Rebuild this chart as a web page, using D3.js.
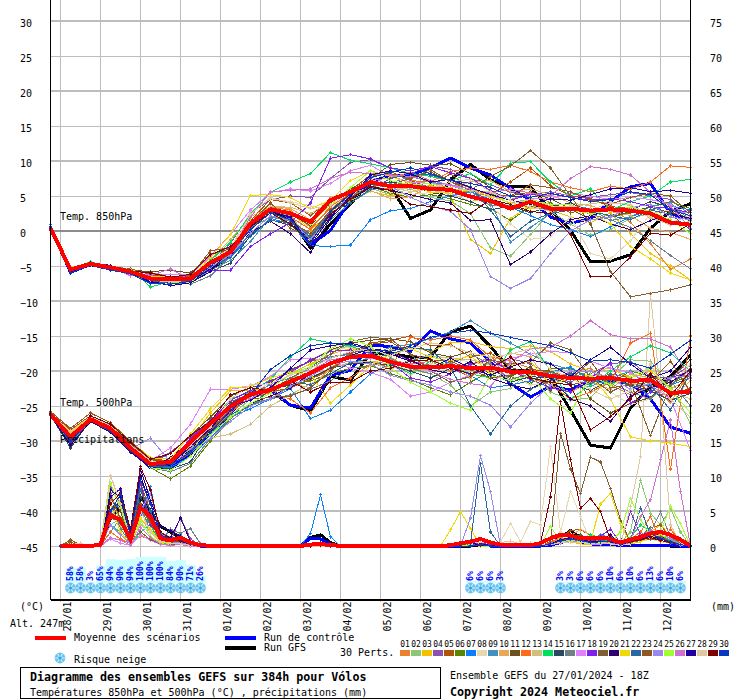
<!DOCTYPE html>
<html><head><meta charset="utf-8">
<script src="https://cdn.jsdelivr.net/npm/d3@7/dist/d3.min.js"></script>
<style>
html,body{margin:0;padding:0;background:#fff}
svg{display:block}
text{font-family:"DejaVu Sans Mono",monospace;font-size:10px;fill:#000}
.b{font-weight:bold;font-size:11.65px}
</style></head><body>
<svg id="c" width="740" height="700"></svg>
<script>
const dateLabels=["28/01","29/01","30/01","31/01","01/02","02/02","03/02","04/02","05/02","06/02","07/02","08/02","09/02","10/02","11/02","12/02"];
const memberColors=["#e8822f","#8cc873","#f2c200","#8c50b0","#b05208","#5a8500","#0a80ff","#e8d8b0","#4090c0","#e8a858","#6b5020","#ff6a1a","#d0c080","#00e060","#2a4860","#708088","#e080ff","#8020f0","#806030","#300070","#f0d800","#2868a0","#905820","#9888f0","#a0ff30","#d070d0","#2000a0","#e0c8a0","#800000","#0838c0"];
const snowSteps=[2,3,4,5,6,7,8,9,10,11,12,13,14,15,42,43,44,45,51,52,53,54,55,56,57,58,59,60,61,62,63];
const snowPct=[58,58,3,65,94,90,94,100,100,100,84,90,71,26,6,6,6,3,3,3,6,6,6,10,6,10,6,13,6,10,6];
const wetSteps=[1,2,3,5,6,7,8,9,10,11,12,13,14,15,16,26,27,28,29,30,40,41,42,43,44,45,46,47,48,49,50,51,52,53,54,55,56,57,58,59,60,61,62,63,64];
const mean850=[.4,-5.5,-4.7,-5.2,-5.8,-6.8,-6.9,-6.8,-4.5,-3,1.1,3.1,2.5,1.3,4.4,5.6,7,6.4,6.4,6,5.9,4.9,4.3,3.2,4.2,3.2,3.2,2.9,3.1,2.9,2.5,1.2,.9];
const ctrl850=[.6,-5.9,-4.8,-5.4,-6,-7.2,-7.3,-7,-5,-3.3,.9,3.2,1.9,-2,.1,4.4,7,8,8,9,10.4,9,8,6.1,4.4,2,1.1,1.8,4.2,6.3,6.8,2.5,1.6];
const gfs850=[.4,-5.8,-4.7,-5.3,-5.9,-7,-7.1,-7,-5.4,-3.6,.8,3,1.8,-2.4,1,3.9,7,6.3,1.8,3,7.3,9.5,7.3,6.3,6.3,3,.1,-4.4,-4.3,-3.4,.4,2.8,3.9];
const mean500=[-26.2,-29.4,-26.9,-28.2,-31,-33.3,-33,-30.1,-27.5,-25.1,-23.3,-22.7,-21.5,-20.3,-18.9,-18,-17.8,-18.7,-19.4,-19.5,-19.3,-19.6,-19.5,-20.1,-20.2,-20.7,-21,-21.1,-21,-21.4,-21.3,-23.2,-22.9];
const ctrl500=[-26.2,-29.8,-27,-28.3,-31.2,-33.8,-33.8,-32,-29,-26,-23,-22.6,-24.9,-25.3,-20.6,-19.9,-16.3,-16.5,-17.2,-14.3,-15.4,-16,-18.7,-21.8,-23.7,-22.2,-22.7,-21.3,-21.3,-21.8,-24,-28,-28.9];
const gfs500=[-26.1,-29.6,-27.1,-28.1,-31,-33.6,-33.4,-31.2,-28.4,-25.3,-23,-22.8,-24.9,-25.7,-20.8,-21.3,-17.5,-17.5,-18,-18,-14.4,-13.6,-16.5,-19.9,-19.9,-20.8,-25.6,-30.6,-31,-25.3,-22.2,-20.8,-17.7];
const meanRain=[0,.05,.05,.2,4.4,3.7,.9,5.5,4.2,1.1,.8,1.2,.5,.1,.05,.2,.3,.1,.05,.05,.1,.4,.6,1,.5,.2,.1,.1,.1,.4,1.1,1.6,1.5,1.1,1.1,1.2,1,.5,.9,1.3,1.8,2,1.6,.9,0];
const ctrlRain=[0,0,0,.1,5,6,1,6,4.5,1.4,.9,1,.2,0,0,1.1,1,.3,0,0,0,0,.1,.3,0,0,0,0,0,0,.1,.5,.8,.5,.3,.2,.2,.1,.1,.1,.1,.1,.1,0,0];
const gfsRain=[0,0,0,.1,4,5.5,1,7,5,2.8,2,1.2,.2,0,0,1.2,1.6,.5,0,0,0,0,0,.2,0,0,0,0,0,0,.3,1.2,2.2,1.2,.6,.4,.2,.1,.1,.1,.1,.1,0,0,0];
const t850=[
[.3,-5.5,-4.6,-5.2,-5.6,-6.6,-6.7,-6.6,-4.4,-2.2,1.6,3.4,3,.5,3.2,5.1,7.2,7.6,8.4,7.2,6,5.5,5,4.5,5.5,4,3,2.5,3.6,1.2,-1.8,-5.5,-4],
[.4,-5.7,-4.7,-5.3,-5.9,-7,-7.2,-6.9,-4.8,-3.1,.2,2.8,2.2,-1.4,2.2,4.6,6.1,5.2,6,4.8,4.3,2.5,-2.4,-3.6,-.5,2.8,1,-.6,.2,1.8,2.5,2.9,2.6],
[.3,-5.4,-4.8,-5.1,-5.7,-6.7,-7.3,-7,-5,-3.5,.7,3.2,2.8,.1,2.6,4.3,5.7,5,5.5,6.6,5,-1.2,-3.2,1.8,3.6,3,2,1.2,2.6,-.4,-3.2,-5,-7],
[.5,-5.6,-4.5,-5,-5.5,-6.5,-6.2,-6.4,-4.6,-1.8,2.5,4.5,5,4.8,7.5,9.8,10.2,9,8.2,9.3,8.8,7.5,6.6,5.5,5.2,5.6,5,4.8,5.2,5.5,5,4.5,2.3],
[.2,-5.8,-4.9,-5.4,-6,-6.3,-6.5,-6.5,-3.2,-2.8,1.5,4.5,4,2.2,4.5,5.8,8,8.5,7.2,6.2,8.2,6,5.2,7,9,6.5,5,4.6,3.5,3.2,2.6,2.8,1.5],
[.3,-5.6,-4.8,-5.2,-5.8,-7,-7.1,-6.9,-5.2,-3.5,.4,2.6,1.5,-.5,2.8,4.7,6.4,5.4,4.8,5.2,4.6,3.8,3.2,1.5,3.5,4,2.6,3.2,2,2.6,3.5,4.2,3.2],
[.9,-5.8,-4.8,-5.5,-5.9,-7.2,-7.4,-7.1,-5.4,-3.8,-.8,1.8,1,-2.1,-2.2,-2,1.6,2.9,3.2,4.2,5,5.6,4.5,3.4,2.2,.9,.2,-.8,.6,2,3,3.6,3],
[.3,-5.4,-4.7,-5.1,-5.7,-6.8,-6.9,-6.7,-4.2,-2.5,2.8,4.6,4.2,3.6,3,5.8,6.8,5.5,5.2,5.5,5.8,5,3.6,1,-1.2,-.8,2,-3.2,-4,-1.4,2.5,3,2.2],
[.4,-5.6,-4.6,-5.2,-5.7,-7,-7.1,-7.2,-5.6,-4.2,-1.5,2,1.8,-1,1.6,4,5.8,6.8,7.8,7,6.5,5.6,4,-1.6,.5,2.5,3.6,3.2,1.5,2,3.5,4,1.5],
[.3,-5.5,-4.8,-5.4,-5.6,-6.6,-7,-6.6,-4.1,-1.2,2,3.5,3.2,1.6,4.8,5.2,5.8,4.6,4.9,6.4,6.2,7,7.2,5.6,6,5.2,4,3.6,2.8,2.2,.4,-.2,-1.2],
[.3,-5.8,-4.9,-5.3,-5.6,-5.8,-5.6,-6,-3.4,-2.5,.4,3,2.4,.8,4,6,7.4,9.5,9.8,9.4,9.6,8.2,6.2,5,5.6,4.6,3.2,1.6,2,2.8,3.4,2.6,1.8],
[.2,-5.5,-4.7,-5.3,-5.8,-6.8,-6.9,-6.7,-4.9,-3,1,2.8,2,.2,3.5,5.4,6.2,6,7.2,7,8.5,9,8.8,9.4,8.5,7,6.2,5.6,6.4,6,7,9.3,9.1],
[.3,-5.6,-4.8,-5.1,-5.7,-6.9,-7,-6.8,-4.6,-3.2,.8,3.5,3.4,2.5,4.2,5.4,6.2,5.8,6.2,5.8,5.4,4.2,4.8,3.4,4.6,3.6,3.4,3.9,4.2,3.6,1.8,1,2.4],
[.4,-5.5,-4.4,-5.1,-5.4,-8,-7.2,-6.6,-4.2,-1.6,2.4,5.5,7,8.2,11.2,10.1,9.6,9,8.2,7.8,7.2,8.2,6.6,9.7,9.9,7,5,6,3,4.2,5,7,7.4],
[.3,-5.7,-4.8,-5.4,-6,-7.1,-7.4,-7.3,-5.8,-4.6,-.6,1.6,.8,-1.2,2.4,4.4,6.6,7,6.6,5.5,5,4.2,3,3.6,2.6,3.5,4,2.8,2.2,3,4.2,3.4,1.3],
[.3,-5.6,-4.9,-5.3,-5.8,-6.9,-7.3,-7.6,-6.4,-3.6,.5,2,1.4,-.6,2.8,4.9,6.4,6.6,6.9,6.2,5.8,5,3.7,3.6,3.4,3,3.3,2.4,1.6,.5,-1.4,-3.5,-5.4],
[.4,-5.5,-4.6,-5.4,-6.2,-6.2,-6.2,-6.3,-3.6,-.5,3,5.5,6,5.7,6.8,8.6,9.4,7.8,7,6.8,6.5,5.7,5.1,4,4.6,4.6,5.4,5,4.5,4.8,4.5,3.8,2],
[.5,-5.9,-4.6,-5.1,-5.7,-6.8,-6.7,-6.8,-5.6,-5.6,-2.2,-.4,1.2,4,10.4,10.9,10.3,9,8.6,9.2,8.3,7.5,5.8,4.4,5.2,5.3,4.8,4.4,4.6,4.2,3.5,3.2,2.6],
[.2,-5.8,-4.7,-5.2,-5.4,-6.2,-7.6,-6.9,-4.8,-3.4,.8,3,.4,-1,2.4,4.5,7.8,8.2,7.4,8.8,7,5.8,7.8,9.3,11.5,9,5,1,-5.8,-9.4,-8.9,-8.4,-7.7],
[.3,-5.9,-4.9,-5.3,-6,-7,-7.4,-7.2,-5.4,-3.6,-.2,1.4,-.4,-3.1,1.8,4.6,6.2,5.8,5.2,4.5,4,1.5,1.6,-4.8,-3,-.4,1.6,2.2,1,.2,1.5,2.5,1.8],
[.3,-5.2,-4.6,-5,-5.7,-6.5,-6.6,-6.8,-3.8,-.5,5.1,5.2,4.8,3.2,4.4,7.2,8.6,7.8,6.8,5.5,5.4,5.9,5,4,3.2,3.5,3,2.5,1,-2.2,-4,-6,-7],
[.4,-5.7,-4.8,-5.4,-5.9,-7.1,-7.5,-7.1,-5.2,-3.7,-.4,1.5,1.2,-.8,2.6,4,6,7.5,8.2,8,7.2,6.3,3,-.8,1.4,2.5,3,2.8,2.2,1.6,3,2.4,.2],
[.3,-5.5,-4.9,-5.5,-6,-5.9,-6.6,-6.4,-2.8,-2.4,1.2,4,1.4,-.4,3,5.4,6.8,6.5,7.6,8.5,7,6.2,5.2,5,6.6,6.2,5.6,4.4,3.8,4.8,5.4,5,2.6],
[.3,-5.6,-4.8,-5.4,-6,-7,-7.2,-7,-5.2,-3.4,-.3,2.2,1.5,-1.2,2.2,5,7.8,6.4,4.8,3.6,2.8,.2,-6.5,-8.2,-6.8,-3.2,0,1.6,2,3.4,3.8,2,1.6],
[.3,-5.4,-4.6,-5.1,-5.5,-6.6,-7.4,-7.4,-4.8,-3,1.4,3.2,2.6,.9,3.8,6.2,8.6,7.2,6.6,6.8,6,5.8,5.6,3.8,4.5,3.8,3.8,2.4,3,3.4,2.8,1.6,-.4],
[.4,-5.6,-4.5,-5.2,-6.4,-6.4,-5.4,-7,-4.8,-2.8,2,5.6,5.8,6,7.5,8.4,8.2,8,7.8,7.2,6.6,6,5.4,6,5.4,5,7.5,9.2,8.8,8,5.5,3.5,.4],
[.4,-6,-4.6,-4.9,-6,-7.2,-7.8,-7.4,-5.8,-2.5,.8,2.8,2,-2,2,5,8,8.6,8.2,7,7.4,6.2,5.2,4.4,3.8,4.6,4.4,5.2,6,6.2,5.6,5.8,5.4],
[.3,-5.5,-4.8,-5.3,-5.9,-7,-7.3,-7,-4.8,-2.9,2.4,4.8,4,3.2,3.6,5.8,7.4,6.4,5.6,6,7,7.4,5.6,4.4,3.4,2.8,3.6,3,4,3.8,2,.8,1.4],
[.3,-5.7,-4.9,-5.4,-5.7,-6,-6.6,-6.2,-3.4,-2.2,.6,2.6,1,-1.6,2.4,4.6,6.4,5.8,3.8,3.5,3,2.5,4.5,3.8,2.8,2.5,-.5,-6.5,-6.5,-3.7,-.3,-.6,1],
[.7,-6,-4.9,-5.6,-6.1,-7.5,-7.6,-7.2,-5,-3,.2,2.6,1.6,-1.8,2.8,5.3,7.6,8.4,9,8.2,7.2,6.8,6.2,5,4.8,5.4,4.8,4.2,4.5,5.6,5.2,3,2.2]];
const t500=[
[-26,-29.2,-26.8,-28,-30.6,-33,-33.2,-30.8,-28.2,-25,-23.5,-23,-22.5,-21,-19.5,-18,-17.5,-18.4,-19,-18.6,-20,-19.2,-18,-18.6,-19.6,-21,-20.2,-19.6,-22,-23.4,-22.2,-24.5,-20],
[-26.3,-30,-27,-28.5,-31,-33.6,-33,-31.2,-29,-26.4,-24,-23.8,-21,-20.4,-17,-16.4,-16.6,-18,-19.8,-20.4,-22,-25,-23,-22.5,-20,-23,-24.2,-23.8,-21,-18.4,-18.6,-22,-27.5],
[-26.2,-28.8,-26.5,-27.6,-30.4,-33,-33.2,-29.8,-26,-22.8,-22.8,-22.4,-20.4,-19,-17.6,-16.8,-17.2,-17,-16.6,-17.2,-16,-15.8,-16.5,-16.8,-16.4,-17.2,-19,-20,-19.6,-21,-20,-22.6,-21],
[-26.1,-29.5,-26.8,-28.4,-31.2,-33.4,-31.6,-29.4,-27,-24.4,-23.2,-22,-20,-18.6,-18,-17.4,-17,-17.2,-18.6,-19.2,-19.6,-20.8,-19.4,-18.2,-19,-20.6,-21.6,-20.4,-19,-18.6,-20.8,-21,-19.2],
[-26,-28.4,-26.4,-28,-30.6,-32.6,-32.8,-30.4,-27.8,-25.6,-24,-23,-22.4,-21.2,-19.8,-17.4,-16,-15.6,-15,-16.4,-16.2,-18,-17.4,-19.4,-20.6,-20,-22,-21.4,-20.4,-21,-23,-23.6,-22.4],
[-26.4,-30.6,-27.2,-28.6,-31,-33.8,-35.4,-33.6,-30,-26.8,-24.8,-24,-22,-21.4,-20.4,-19.6,-19.2,-20.4,-21.2,-22.4,-23.4,-21.6,-20,-20.8,-21.8,-19.6,-19.6,-21,-21.8,-20,-20.8,-21.8,-20.6],
[-26.3,-30.4,-27,-28.6,-31.4,-33.6,-33.8,-32.2,-29.6,-26.6,-25.4,-24,-22.5,-26.8,-25.6,-23,-20.4,-19,-18.6,-17.6,-19,-20.6,-22.4,-22,-21.4,-20.2,-19.4,-21.4,-21.8,-21.2,-23.8,-22,-21],
[-26,-29,-26.6,-28.2,-30.8,-33.2,-33.4,-31,-28.6,-24.6,-23.4,-21.6,-20.2,-18.4,-17,-16.6,-17.4,-19.2,-20.6,-19,-18,-18.8,-19,-20.6,-22,-21.6,-20.8,-22,-23,-24.8,-24,-22,-19],
[-26.3,-29.8,-27.2,-28.4,-31.2,-33.4,-33,-31,-28,-25,-24,-21.8,-21,-19.6,-18,-17.6,-17.8,-16.6,-16.2,-15.4,-14.4,-12.8,-14.6,-16,-17.6,-19,-19.8,-22.2,-21,-20,-22.6,-22,-19.8],
[-26.2,-29,-26.9,-27.8,-30.8,-33,-33.4,-30.4,-27.2,-24.8,-23.6,-22.8,-21.8,-22.4,-19.6,-18.8,-18.6,-19,-20,-19.6,-18.8,-21,-18.6,-17.4,-18,-22,-23,-21.6,-22.6,-20.4,-21,-24.2,-21.4],
[-26,-29.4,-26.4,-27.6,-30.2,-32.8,-31.8,-29.2,-26.6,-23.6,-22.4,-21.6,-19.8,-18.6,-17,-16,-15.6,-15.4,-15.8,-17.4,-18,-17.2,-20,-20.8,-19.4,-22.8,-20,-24,-26,-24.6,-23.8,-21,-18.4],
[-26.2,-28.6,-26.8,-28.2,-31,-33.2,-33,-31.6,-28.8,-26,-23.6,-23.2,-24,-26,-22.4,-21,-19,-19.4,-15.2,-15.6,-15,-15.6,-18,-20,-21,-22,-24,-23,-21.6,-16,-14.6,-34,-15],
[-26.1,-29.2,-26.7,-28,-30.4,-33,-33.4,-31.4,-29.6,-29,-27.6,-25,-23.4,-21.8,-20.6,-18.6,-18.6,-19.8,-18.4,-17.8,-18.2,-18.4,-19.2,-21.4,-20,-21,-21.2,-20.6,-20.8,-21.8,-22,-23,-24],
[-26.4,-30.2,-27.2,-28.8,-31.6,-33.2,-33.4,-30.6,-27.4,-24,-23,-21.2,-18,-15.4,-16,-16.4,-17.6,-19,-20.4,-18.6,-19.2,-20.4,-21,-17,-15.8,-20,-24,-22,-20,-18,-16.4,-17.4,-20],
[-26.3,-31,-27,-28.8,-31.4,-33.6,-34,-33,-28.2,-24.6,-23.2,-22.6,-22,-21,-19.6,-19,-18.8,-19.2,-20,-21,-19.6,-18.8,-20.4,-21.6,-20.8,-21,-21.8,-22.8,-21.2,-22,-22.8,-24.2,-23.2],
[-26.2,-29.6,-27,-28.4,-31,-33.8,-34.4,-33.2,-29.6,-26.8,-24.6,-24,-23.4,-22.6,-21.4,-19.6,-19.4,-18.2,-19.6,-20.4,-19,-17.6,-19,-21.2,-20.4,-20.2,-21,-20,-21.8,-23,-24,-21.4,-25],
[-26.1,-29,-26.4,-27.8,-30.4,-32.8,-31,-27.6,-22.6,-22.6,-22.2,-20.8,-18.4,-18.2,-18.6,-19.6,-20.2,-21.2,-23.6,-23,-21.6,-20.6,-19.8,-18.2,-17.6,-17.2,-17.4,-18.6,-19.6,-20.2,-22,-24,-31.3],
[-26.2,-30.2,-27,-28.2,-31.2,-33.2,-33.2,-29.6,-27.2,-24.2,-22.8,-21.4,-20.2,-18.4,-17.2,-17,-17.4,-18.8,-21,-21.6,-20.4,-19,-18.4,-20,-21.2,-22.4,-23,-21,-18.8,-24.6,-23,-21,-20],
[-26,-29.6,-26.6,-27.6,-30.4,-32.6,-33.4,-31.8,-28.4,-24.8,-23.6,-22.8,-21,-19.4,-17.6,-15.8,-15.2,-15.4,-17.6,-20,-21.6,-20.8,-18.4,-19,-18.8,-16,-17,-21,-23,-21.6,-29.2,-22,-19.6],
[-26.3,-30.6,-27.2,-28.8,-31.6,-33.8,-32.4,-30,-28.6,-26.6,-24.6,-23.6,-22.4,-20.4,-19,-17.8,-16.8,-17.2,-18.4,-19.8,-20.4,-18.6,-21,-22,-22.6,-21,-24,-25,-27.2,-23.6,-22.4,-21.6,-19.8],
[-26.1,-28.8,-26.6,-27.8,-30,-32.4,-32.6,-29,-25.4,-22.4,-22.2,-21,-20.2,-20.4,-24.6,-22,-19.2,-17.6,-16.8,-18,-18.6,-17.8,-20.4,-19.2,-18.6,-22,-21,-20.6,-24,-29.4,-30,-30.3,-30.8],
[-26.2,-29.8,-27.1,-28.6,-31,-33.6,-33.6,-31.4,-28.8,-26.2,-25,-22.6,-21.4,-22,-20.4,-18.8,-18.2,-17.6,-16.6,-17,-19.4,-25,-29,-25,-22.6,-21.4,-20.4,-21.8,-20.6,-22.2,-22,-25.6,-20.2],
[-25.8,-28.2,-26,-27.4,-30,-32.6,-33,-31,-28.4,-25.6,-24,-23.8,-23.6,-22.4,-20,-17.6,-16.2,-15.8,-17.6,-18.4,-18.6,-19.8,-21,-20.6,-19.8,-20,-21.2,-18.6,-22.4,-22,-21.6,-18.6,-23],
[-26.3,-30,-26.9,-28.2,-31.2,-29.6,-33,-31.6,-29.6,-27.2,-25,-24,-22.2,-20.8,-19,-18.6,-19,-20.6,-21.4,-22,-23,-23.6,-24.9,-28,-24.6,-22,-20,-20,-21,-22.6,-21.8,-21,-20.6],
[-26.2,-29.4,-26.6,-28,-30.8,-33.8,-34.2,-32.2,-29.2,-26.6,-24.6,-23.2,-20.4,-19.4,-16.8,-15.4,-16.4,-19.6,-21.6,-23,-24.6,-25.6,-20.6,-21.4,-20.6,-24,-26,-20.6,-22,-20.8,-19.6,-22.6,-26],
[-26.4,-29.8,-27,-28.2,-31,-33.4,-33.2,-31,-28,-25.4,-24,-22.4,-21.8,-20,-18.4,-18,-18.2,-18.6,-19,-20,-21.2,-21.8,-22.2,-18.8,-16.8,-16.6,-15,-12.8,-14.8,-15.4,-15.4,-16.6,-21],
[-26.1,-29.4,-26.8,-28.4,-31.2,-33.4,-33.4,-30.8,-28.2,-25,-24.2,-22.4,-19.6,-17,-16.4,-16,-16.8,-17.6,-18.6,-19.6,-18.2,-19.6,-20.6,-19.4,-18.4,-19,-20.8,-18.4,-16.6,-19,-21,-20,-16.6],
[-26.1,-28.6,-26.5,-27.8,-30.6,-32.8,-33.2,-30.6,-28,-24,-22,-21.8,-20.6,-19.6,-18.2,-17.2,-16.8,-17.8,-16.8,-16,-16.4,-17.4,-18,-17.6,-16.8,-19.8,-21,-22.6,-24,-22.8,-19,-24,-26.6],
[-26.1,-29.8,-26.4,-27.6,-30.2,-32.6,-31.8,-29.2,-27.2,-23.4,-22.4,-22.8,-21.4,-23,-21.6,-21.6,-20,-19.6,-18.6,-18.4,-19.6,-20.4,-19.6,-18,-21,-21.6,-22,-28.4,-26.5,-24,-20.4,-23.6,-20],
[-26.2,-30,-27,-28.6,-31.4,-33.6,-33.4,-31.6,-28.8,-25.6,-23.4,-19.8,-17.8,-16.4,-16,-16.2,-17,-17.2,-16.4,-15.2,-14.6,-14.2,-14.6,-15.2,-15.8,-16.4,-17.4,-18.6,-18.4,-18.8,-19.6,-17.6,-15.6]];
const rain=[
[0,0,0,.1,6.5,7,1,8,6,2,1.2,1,.3,0,0,0,.2,.1,0,0,0,0,0,.3,0,0,0,0,0,0,.5,1,1.2,.8,.5,.4,.6,.3,.5,1.2,2,1.5,1,.4,0],
[0,0,0,0,3,4,.4,3,2.4,.6,.3,.4,.1,0,0,0,.1,0,0,0,0,0,0,.2,0,0,0,0,0,0,.3,.6,1,1.2,.6,.5,1.5,.5,2,9.4,4.7,3,5.4,2,0],
[0,.2,0,.2,5,3,1,5,4,.5,.2,.3,0,0,0,0,0,0,0,0,0,.3,.2,0,0,0,0,0,0,0,.2,.5,.6,.3,.2,1,.5,.2,1,.8,2,3,1.5,.5,0],
[0,.1,0,.2,8.5,6,2,7,4,1,.6,4.1,1,0,0,0,.3,.1,0,0,0,0,0,.4,.2,0,0,0,0,0,.4,.8,1,1.4,1.2,1.5,.6,.3,1,2,1.2,.8,1.6,.6,0],
[0,.9,.1,.3,6,4,.8,9,5,1.2,.8,.6,.1,0,0,0,.2,0,0,0,0,0,.1,.2,0,0,0,0,0,0,.6,1.2,2.2,2.4,1.4,.8,.5,.2,.6,1.4,2.6,3,1.2,.5,0],
[0,.3,0,.1,4,5,.2,6,3,.4,.6,.8,.2,0,0,0,.1,0,0,0,0,0,0,.3,.1,0,0,0,0,0,.2,.6,1,.8,.4,.7,.3,.1,.4,1,1.8,1.6,.7,.2,0],
[0,0,0,.1,5,3,.5,4,8.5,1.5,.5,.6,.1,0,0,1.8,7.3,1.3,0,0,0,0,.1,.3,0,0,0,0,0,0,.3,.8,1,.9,.6,.3,1.4,.2,.6,1.6,1.3,1,.8,.3,0],
[0,.5,.2,.4,9,5,1.4,3,2,.5,.3,.6,.1,0,0,0,0,0,0,0,0,0,0,.1,0,.6,3.2,.6,3.5,3,14.2,2,7.8,4.2,.5,.4,.3,.1,.3,.6,1,.6,.4,.2,0],
[0,0,0,0,2,4,.6,5,3,.7,.5,1.6,.4,.1,0,0,.1,0,0,0,0,0,0,.2,0,0,0,0,0,0,.4,.8,1.2,.6,.4,1.6,1.2,.3,.9,1.6,2.4,1.4,1,.3,0],
[0,.1,.3,.3,10.1,6,1,4,2,.8,.4,.5,.1,0,0,0,.1,.1,0,0,0,0,0,.2,0,0,0,0,0,0,.3,.7,1.4,2.4,1.6,.8,.4,.2,.8,1.6,2,1.4,.6,.2,0],
[0,.3,0,.2,7,5,1.2,8,4,1,.4,.7,.1,0,0,0,.1,0,0,0,0,0,0,.2,.1,0,0,0,0,0,.2,.5,1.1,1.6,.7,.6,.8,.2,.6,1.2,1.5,1.1,.6,.2,0],
[0,0,0,.1,2,1,.3,1.4,1,.4,.2,.3,0,0,0,0,.2,0,0,0,0,0,0,.4,.1,0,0,0,0,0,.5,1.2,1.5,1,.7,.8,.6,.3,1,2,4.2,.6,2.4,.6,0],
[0,0,0,0,8,3,.6,3,2,.6,.5,.4,.1,0,0,0,0,0,0,0,0,0,0,.2,0,0,0,0,0,0,.3,.6,.8,.6,.4,.3,.4,.1,.8,1.4,1.6,1,.7,.2,0],
[0,0,0,.1,3,2,.2,2,3,.5,.2,.3,0,0,0,0,.1,0,0,0,0,0,0,.3,.1,0,0,0,0,0,.2,.5,.7,.6,1.6,1.2,.5,.2,1.2,3,2.2,1.4,.9,.3,0],
[0,0,0,.1,5,6.5,1,7,4,.7,.4,.5,.1,0,0,0,.1,0,0,0,0,0,0,.2,0,0,0,0,0,0,.2,.4,.8,.7,.5,1.2,.8,.2,.7,1.5,1.8,1.2,.5,.2,0],
[0,0,0,.2,6,2.5,.4,6,2,.7,2.4,1.8,2.5,.3,0,0,.1,0,0,0,0,0,0,.2,0,0,0,0,0,0,.3,.8,.9,.8,.4,.9,.5,.2,.5,1.4,2,4.9,1.2,.3,0],
[0,0,0,0,1,.4,.1,1.6,.8,.2,.1,.2,0,0,0,0,0,0,0,0,0,0,0,.1,0,0,0,0,0,0,.2,.4,.6,.5,.3,.2,.8,.1,.5,1,1.2,.8,.5,.1,0],
[0,0,0,.1,7.5,8,2,9,3,1.4,.8,1.2,.2,0,0,0,.2,0,0,0,0,0,0,.5,.1,0,0,0,0,0,.3,.7,1,.9,.6,1.4,2.4,.4,4.9,1.6,1.8,1.2,.6,.2,0],
[0,.6,0,.2,4,3.5,.8,2,.9,.3,.2,.4,.1,0,0,0,.1,0,0,0,0,0,0,.1,0,0,0,0,0,0,.4,16.1,11,7.5,12.7,12,8.2,3.7,.5,.8,1,.8,.4,.2,0],
[0,0,0,.2,8,7,1.6,10,6,1.8,1.2,4,.6,0,0,0,.2,0,0,0,0,0,0,.3,.1,0,0,0,0,0,.2,.6,1,.8,.5,.8,1.6,.2,.7,1,2,1.4,.7,.2,0],
[0,0,0,0,6,2,.2,4,2.4,.6,.3,.4,0,0,0,0,0,0,0,0,2.3,4.9,2.5,0,0,0,0,0,0,0,.3,.6,.8,.6,.4,6,7.5,3.2,.3,.6,1.2,1.6,1,.3,0],
[0,0,0,.1,5,6,1,8,5,1.2,.6,.8,.2,0,0,0,.2,0,0,0,0,0,.4,11.8,2,0,0,0,0,0,.2,.5,.9,.6,.4,.8,.6,.2,.8,5.4,1.6,1.2,.6,.2,0],
[0,.1,0,.3,7,4,.6,6,3.4,1,.5,.6,.1,0,0,0,.1,0,0,0,0,0,0,.2,0,0,0,0,0,0,.3,.7,1.2,1.4,.8,.5,.7,.2,.5,1.2,1.6,1.3,.7,.2,0],
[0,0,0,.1,3,1.6,.3,5,7.5,2,.6,.5,.1,0,0,0,.1,0,0,0,0,0,4,12.9,7.8,0,0,0,0,0,.2,.5,.7,.5,.4,.4,.6,.1,.6,1.4,2.2,2,1,.3,0],
[0,0,0,.1,9,5.5,.9,3.6,1.4,.4,.1,.2,0,0,0,0,.1,0,0,0,0,0,.2,0,0,0,0,0,0,0,2.8,.6,.8,.6,.3,.4,.5,2,6.8,3.8,1.4,2,5.7,3.2,0],
[0,0,0,0,1.2,.8,.1,2.6,1.2,.3,.1,.2,0,0,0,0,0,0,0,0,0,0,0,.1,0,0,0,0,0,0,.2,.4,.7,.5,.3,.5,.4,.2,.9,4.2,6.6,12.3,18,7.8,0],
[0,0,0,.2,7,8.2,1.8,11,6.5,2.8,2.2,1.4,.4,0,0,0,.4,.1,0,0,0,0,0,.3,.1,0,0,0,0,0,.3,.9,1.2,1,.6,.7,.6,.2,.6,1,1.4,1,.6,.2,0],
[0,.2,.4,.5,10,6,1,5,2,.7,.4,.3,.1,0,0,0,0,0,0,0,0,.1,.4,.5,.6,.5,.7,.3,.4,.3,.2,.5,.6,.5,.3,.6,.3,.2,5.6,12.8,36,22,3,.4,0],
[0,0,0,.1,6,7.6,2.4,11.3,8,2,1,.7,.2,0,0,0,.1,0,0,0,0,0,0,.1,0,0,0,0,.1,.4,7,20.6,12.3,5.4,6.8,4.9,.9,.3,.6,.9,1.2,.8,.5,.2,0],
[0,0,0,.1,5,7.4,1.5,9.5,6,1.6,1,.9,.2,0,0,.2,.4,0,0,0,0,0,0,.2,0,0,0,0,0,0,.3,.7,1,.8,.5,.6,.7,.2,.7,1.3,1.7,1.1,.6,.2,0]];

const svg=d3.select("#c");
const x=d3.scaleLinear().domain([0,64]).range([50.5,690.5]);
const yT=d3.scaleLinear().domain([-45,30]).range([546,21]);
const yR=d3.scaleLinear().domain([0,75]).range([546,21]);
const tempTicks=d3.range(-45,31,5), rainTicks=d3.range(0,76,5);
const dayStep=i=>1+4*i;
const grid=svg.append("g").attr("shape-rendering","crispEdges");
grid.selectAll(".v").data(dateLabels).join("line").attr("x1",(d,i)=>x(dayStep(i))).attr("x2",(d,i)=>x(dayStep(i)))
 .attr("y1",0).attr("y2",602).attr("stroke","#bdbdbd");
grid.selectAll(".h").data(tempTicks).join("line").attr("x1",x(0)).attr("x2",x(64)).attr("y1",d=>yT(d)).attr("y2",d=>yT(d))
 .attr("stroke",d=>d===0?"#8c8c8c":"#bdbdbd").attr("stroke-width",d=>(d%10===0&&d!==-45)?2:1);
const snow=snowSteps.map((s,i)=>({s,p:snowPct[i]}));
const snowH=d3.scaleLinear().domain([0,100]).range([583,557]);
svg.append("g").attr("shape-rendering","crispEdges").selectAll("rect").data(snow).join("rect")
 .attr("x",d=>x(d.s)-5).attr("width",10).attr("y",d=>snowH(d.p)).attr("height",d=>583-snowH(d.p)).attr("fill","#ccffff");
function flake(g,cx,cy){
 const f=g.append("g").attr("transform",`translate(${cx},${cy})`);
 f.append("circle").attr("r",5.4).attr("fill","#6cc4ee");
 [0,60,120].forEach(a=>f.append("line").attr("x1",-5).attr("x2",5).attr("transform",`rotate(${a})`).attr("stroke","#d2eefc").attr("stroke-width",1));
 f.append("circle").attr("r",1.5).attr("fill","#2f9fe0");
}
const sg=svg.append("g");
snow.forEach(d=>flake(sg,x(d.s),588));
sg.selectAll("text").data(snow).join("text").attr("transform",d=>`translate(${x(d.s)+2},581) rotate(-90)`)
 .text(d=>d.p+"%").style("font-size","8.2px").style("font-weight","bold").style("fill","#0000ff");
const left=d3.axisLeft(yT).tickValues(tempTicks).tickSize(0).tickFormat(d3.format("d"));
const la=svg.append("g").attr("transform",`translate(50.5,0)`).call(left);
la.select(".domain").remove();
la.selectAll("text").attr("x",-30.5).attr("y",2).attr("text-anchor","start").style("font-family",'"DejaVu Sans Mono"').style("font-size","10px");
const right=d3.axisRight(yR).tickValues(rainTicks).tickSize(0).tickFormat(d3.format("d"));
const ra=svg.append("g").attr("transform",`translate(690.5,0)`).call(right);
ra.select(".domain").remove();
ra.selectAll("text").attr("x",19.5).attr("y",2).attr("text-anchor","start").style("font-family",'"DejaVu Sans Mono"').style("font-size","10px");
const cross=d3.symbol().type(d3.symbolCross).size(7)();
const evenSteps=d3.range(0,65,2), rainSteps=d3.range(1,65);
const fullRain=v=>{const m=new Map(wetSteps.map((s,k)=>[s,v[k]]));return rainSteps.map(s=>m.get(s)||0);};
function series(vals,steps,scale,color,w,marks){
 const g=svg.append("g").attr("shape-rendering","crispEdges");
 g.append("path").attr("d",d3.line().x((d,i)=>x(steps[i])).y(d=>scale(d))(vals)).attr("fill","none").attr("stroke",color).attr("stroke-width",w);
 if(marks) g.selectAll("path.m").data(vals).join("path").attr("class","m").attr("d",cross)
   .attr("transform",(v,i)=>`translate(${x(steps[i])},${scale(v)})`).attr("fill",color);
}
series(fullRain(gfsRain),rainSteps,yR,"#000",3,false);
series(gfs500,evenSteps,yT,"#000",3,false);
series(gfs850,evenSteps,yT,"#000",3,false);
series(fullRain(ctrlRain),rainSteps,yR,"#0000ff",3,false);
series(ctrl500,evenSteps,yT,"#0000ff",3,false);
series(ctrl850,evenSteps,yT,"#0000ff",3,false);
rain.forEach((m,i)=>series(fullRain(m),rainSteps,yR,memberColors[i],1,true));
t500.forEach((m,i)=>series(m,evenSteps,yT,memberColors[i],1,true));
t850.forEach((m,i)=>series(m,evenSteps,yT,memberColors[i],1,true));
series(fullRain(meanRain),rainSteps,yR,"#ff0000",4,false);
series(mean500,evenSteps,yT,"#ff0000",4,false);
series(mean850,evenSteps,yT,"#ff0000",4,false);
const fr=svg.append("g").attr("stroke","#000").attr("stroke-width",1.5).attr("shape-rendering","crispEdges");
[[x(0),0,x(0),600],[x(64),0,x(64),600],[x(0),600,x(64),600]].forEach(l=>fr.append("line").attr("x1",l[0]).attr("y1",l[1]).attr("x2",l[2]).attr("y2",l[3]));
svg.append("g").selectAll("text").data(dateLabels).join("text")
 .attr("transform",(d,i)=>`translate(${x(dayStep(i))+10.5},631.5) rotate(-90)`).text(d=>d);
const T=(s,px,py,c)=>svg.append("text").attr("x",px).attr("y",py).attr("class",c||null).text(s);
T("Temp. 850hPa",60,220);T("Temp. 500hPa",60,406);T("Précipitations",60,443);
T("(°C)",20,610);T("Alt. 247m",10,627);T("(mm)",711,610);
T("Moyenne des scénarios",74,641);T("Run de contrôle",264,641);T("Run GFS",264,651);T("Risque neige",74,663);T("30 Perts.",340,656);
const lg=svg.append("g").attr("shape-rendering","crispEdges");
[[35,636,"#ff0000"],[225,636,"#0000ff"],[225,646,"#000"]].forEach(l=>lg.append("rect").attr("x",l[0]).attr("y",l[1]).attr("width",31).attr("height",4).attr("fill",l[2]));
flake(svg,60,658);
svg.append("rect").attr("x",20.5).attr("y",667.5).attr("width",420).attr("height",31).attr("fill","none").attr("stroke","#000").attr("shape-rendering","crispEdges");
T("Diagramme des ensembles GEFS sur 384h pour Vólos",30,681,"b");
T("Températures 850hPa et 500hPa (°C) , précipitations (mm)",30,696);
T("Ensemble GEFS du 27/01/2024 - 18Z",450,679);
T("Copyright 2024 Meteociel.fr",450,696,"b");
const sw=svg.append("g");
sw.selectAll("rect").data(memberColors).join("rect").attr("x",(d,i)=>400+11*i).attr("y",650).attr("width",10).attr("height",6).attr("fill",d=>d).attr("shape-rendering","crispEdges");
sw.selectAll("text").data(memberColors).join("text").attr("x",(d,i)=>405+11*i).attr("y",647).attr("text-anchor","middle")
 .style("font-size","8px").text((d,i)=>d3.format("02d")(i+1));
</script></body></html>
